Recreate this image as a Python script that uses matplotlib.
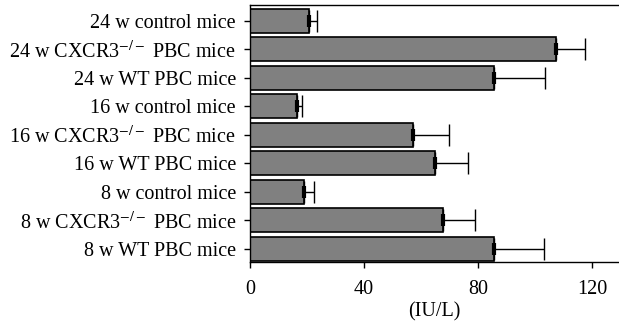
import numpy as np
import matplotlib
matplotlib.use("Agg")
import matplotlib.pyplot as plt

plt.rcParams["font.family"] = ["Liberation Serif", "DejaVu Serif"]
plt.rcParams["mathtext.fontset"] = "stix"

# ---------------------------- data (bottom to top) ---------------------------- #
labels = [
    "8 w WT PBC mice",
    "8 w CXCR3$^{-/-}$ PBC mice",
    "8 w control mice",
    "16 w WT PBC mice",
    "16 w CXCR3$^{-/-}$ PBC mice",
    "16 w control mice",
    "24 w WT PBC mice",
    "24 w CXCR3$^{-/-}$ PBC mice",
    "24 w control mice",
]
means = [85.6, 67.5, 18.9, 65.0, 57.3, 16.6, 85.6, 107.4, 20.7]
errors = [17.6, 11.4, 3.6, 11.5, 12.4, 1.5, 17.9, 10.1, 2.9]
xticks = [0, 40, 80, 120]

# ---------------------------------- draw ---------------------------------- #
fig = plt.figure(figsize=(6.19, 3.22), dpi=100)
ax = fig.add_axes([250 / 619, 1 - 262 / 322, 368 / 619, 257 / 322])

y = np.arange(len(labels))
ax.barh(y, means, height=0.84, color="#808080", edgecolor="black", linewidth=1.2)
ax.errorbar(means, y, xerr=[np.zeros(len(means)), errors], fmt="none",
            ecolor="black", elinewidth=1.0, capsize=8, capthick=1.0)
ax.plot(means, y, linestyle="none", marker="|", markersize=8, mew=3, color="black")

ax.set_xlim(0, 129)
ax.set_ylim(-0.46, 8.56)
ax.set_xticks(xticks)
ax.set_xticklabels([str(t) for t in xticks], fontsize=14.5)
ax.set_yticks(y)
ax.set_yticklabels(labels, fontsize=14.5)
ax.set_xlabel("(IU/L)", fontsize=14.5, labelpad=2)

ax.spines["right"].set_visible(False)
for side in ("left", "top", "bottom"):
    ax.spines[side].set_linewidth(1.0)
ax.tick_params(axis="y", direction="out", length=4, width=1.0, pad=6)
ax.tick_params(axis="x", direction="out", length=4, width=1.0, pad=9)

fig.savefig("out.png", dpi=100)
